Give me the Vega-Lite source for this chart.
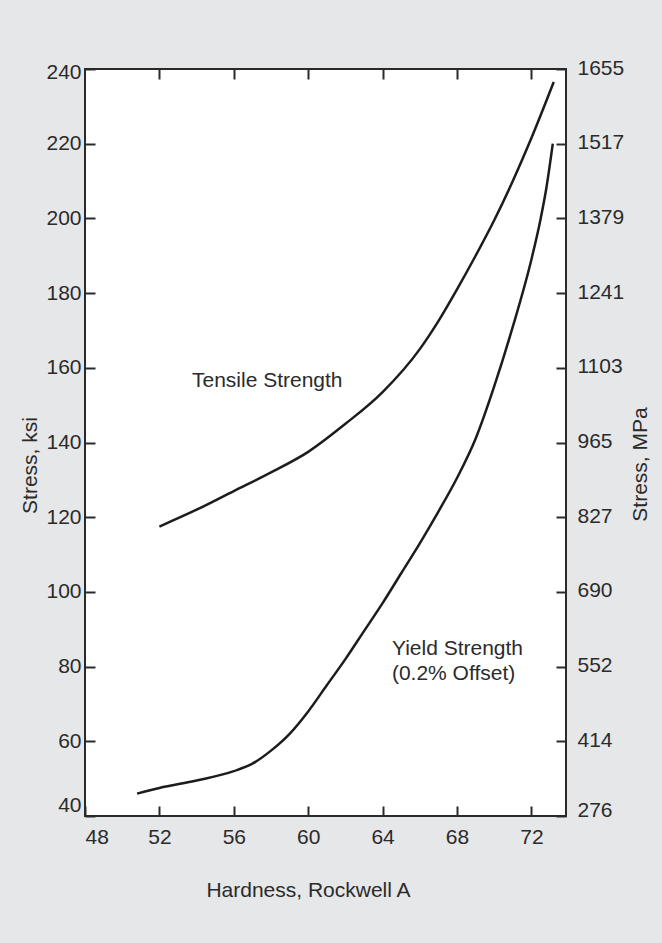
{
  "$schema": "https://vega.github.io/schema/vega-lite/v6.json",
  "autosize": {"type": "none"},
  "padding": {"left": 85, "top": 69, "right": 96, "bottom": 127},
  "width": 481,
  "height": 747,
  "background": "#e6e7e8",
  "config": {
    "view": {"fill": "white", "stroke": "#2a2a2a", "strokeWidth": 2},
    "font": "Liberation Sans",
    "axis": {
      "domain": false,
      "grid": false,
      "tickColor": "#2a2a2a",
      "tickWidth": 2,
      "tickSize": -10,
      "labelFont": "Liberation Sans",
      "labelFontSize": 21,
      "labelColor": "#2b2b2b",
      "titleFont": "Liberation Sans",
      "titleFontSize": 21,
      "titleFontWeight": "normal",
      "titleColor": "#2b2b2b"
    }
  },
  "datasets": {
    "curves": [
      {"series": "Tensile", "hardness": 52, "ksi": 117.5},
      {"series": "Tensile", "hardness": 54, "ksi": 122},
      {"series": "Tensile", "hardness": 56, "ksi": 127},
      {"series": "Tensile", "hardness": 58, "ksi": 132},
      {"series": "Tensile", "hardness": 60, "ksi": 137.5},
      {"series": "Tensile", "hardness": 62, "ksi": 145},
      {"series": "Tensile", "hardness": 64, "ksi": 153.5},
      {"series": "Tensile", "hardness": 66, "ksi": 165},
      {"series": "Tensile", "hardness": 67, "ksi": 172.5},
      {"series": "Tensile", "hardness": 68, "ksi": 181},
      {"series": "Tensile", "hardness": 69, "ksi": 190},
      {"series": "Tensile", "hardness": 70, "ksi": 199.5},
      {"series": "Tensile", "hardness": 71, "ksi": 210},
      {"series": "Tensile", "hardness": 72, "ksi": 221.5},
      {"series": "Tensile", "hardness": 73.2, "ksi": 236.5},
      {"series": "Yield", "hardness": 50.8, "ksi": 46},
      {"series": "Yield", "hardness": 52, "ksi": 47.5},
      {"series": "Yield", "hardness": 54, "ksi": 49.5},
      {"series": "Yield", "hardness": 56, "ksi": 52},
      {"series": "Yield", "hardness": 57, "ksi": 54},
      {"series": "Yield", "hardness": 58, "ksi": 57.5},
      {"series": "Yield", "hardness": 59, "ksi": 62},
      {"series": "Yield", "hardness": 60, "ksi": 68},
      {"series": "Yield", "hardness": 61, "ksi": 75},
      {"series": "Yield", "hardness": 62, "ksi": 82},
      {"series": "Yield", "hardness": 63, "ksi": 89.5},
      {"series": "Yield", "hardness": 64, "ksi": 97},
      {"series": "Yield", "hardness": 65, "ksi": 105},
      {"series": "Yield", "hardness": 66, "ksi": 113},
      {"series": "Yield", "hardness": 67, "ksi": 121.5},
      {"series": "Yield", "hardness": 68, "ksi": 130.5},
      {"series": "Yield", "hardness": 69, "ksi": 141},
      {"series": "Yield", "hardness": 70, "ksi": 155},
      {"series": "Yield", "hardness": 71, "ksi": 171},
      {"series": "Yield", "hardness": 72, "ksi": 189},
      {"series": "Yield", "hardness": 72.5, "ksi": 200},
      {"series": "Yield", "hardness": 72.8, "ksi": 208},
      {"series": "Yield", "hardness": 73.15, "ksi": 220}
    ],
    "labels": [
      {"hardness": 53.75, "ksi": 154.9, "label": "Tensile Strength"},
      {"hardness": 64.5, "ksi": 83.1, "label": "Yield Strength\n(0.2% Offset)"}
    ]
  },
  "layer": [
    {
      "data": {"name": "curves"},
      "mark": {"type": "line", "interpolate": "monotone", "strokeWidth": 2.5, "color": "#1c1c1c"},
      "encoding": {
        "x": {
          "field": "hardness", "type": "quantitative",
          "scale": {"domain": [48, 73.86], "nice": false, "zero": false},
          "axis": {
            "orient": "bottom",
            "title": "Hardness, Rockwell A",
            "values": [48, 52, 56, 60, 64, 68, 72],
            "labelFlush": true,
            "labelPadding": 20,
            "titleX": 223,
            "titleY": 80,
            "titleAlign": "center",
            "titleBaseline": "alphabetic",
            "titleAnchor": null
          }
        },
        "y": {
          "field": "ksi", "type": "quantitative",
          "scale": {"domain": [40, 240], "nice": false, "zero": false},
          "axis": {
            "orient": "left",
            "title": "Stress, ksi",
            "values": [40, 60, 80, 100, 120, 140, 160, 180, 200, 220, 240],
            "labelPadding": 14,
            "labelOffset": {"condition": [{"test": "datum.value == 240", "value": 3}, {"test": "datum.value == 40", "value": -11}], "value": 0},
            "titleAngle": -90,
            "titleX": -49,
            "titleY": 396,
            "titleAlign": "center",
            "titleBaseline": "alphabetic",
            "titleAnchor": null
          }
        },
        "detail": {"field": "series", "type": "nominal"}
      }
    },
    {
      "data": {"name": "curves"},
      "mark": {"type": "line", "opacity": 0},
      "encoding": {
        "x": {
          "field": "hardness", "type": "quantitative",
          "axis": {
            "orient": "top",
            "title": null,
            "labels": false,
            "values": [52, 56, 60, 64, 68, 72]
          }
        },
        "y": {
          "field": "ksi", "type": "quantitative",
          "axis": {
            "orient": "right",
            "title": "Stress, MPa",
            "values": [40, 60, 80, 100, 120, 140, 160, 180, 200, 220, 240],
            "labelExpr": "datum.value == 240 ? '1655' : datum.value == 220 ? '1517' : datum.value == 200 ? '1379' : datum.value == 180 ? '1241' : datum.value == 160 ? '1103' : datum.value == 140 ? '965' : datum.value == 120 ? '827' : datum.value == 100 ? '690' : datum.value == 80 ? '552' : datum.value == 60 ? '414' : '276'",
            "labelPadding": 21,
            "labelOffset": {"condition": [{"test": "datum.value == 40", "value": -6}], "value": -1},
            "titleAngle": -90,
            "titleX": 80,
            "titleY": 395,
            "titleAlign": "center",
            "titleBaseline": "alphabetic",
            "titleAnchor": null
          }
        },
        "detail": {"field": "series", "type": "nominal"}
      }
    },
    {
      "data": {"name": "labels"},
      "mark": {"type": "text", "align": "left", "baseline": "alphabetic", "fontSize": 21, "font": "Liberation Sans", "color": "#2b2b2b", "lineBreak": "\n", "lineHeight": 25},
      "encoding": {
        "x": {"field": "hardness", "type": "quantitative", "axis": null},
        "y": {"field": "ksi", "type": "quantitative", "axis": null},
        "text": {"field": "label"}
      }
    }
  ]
}
